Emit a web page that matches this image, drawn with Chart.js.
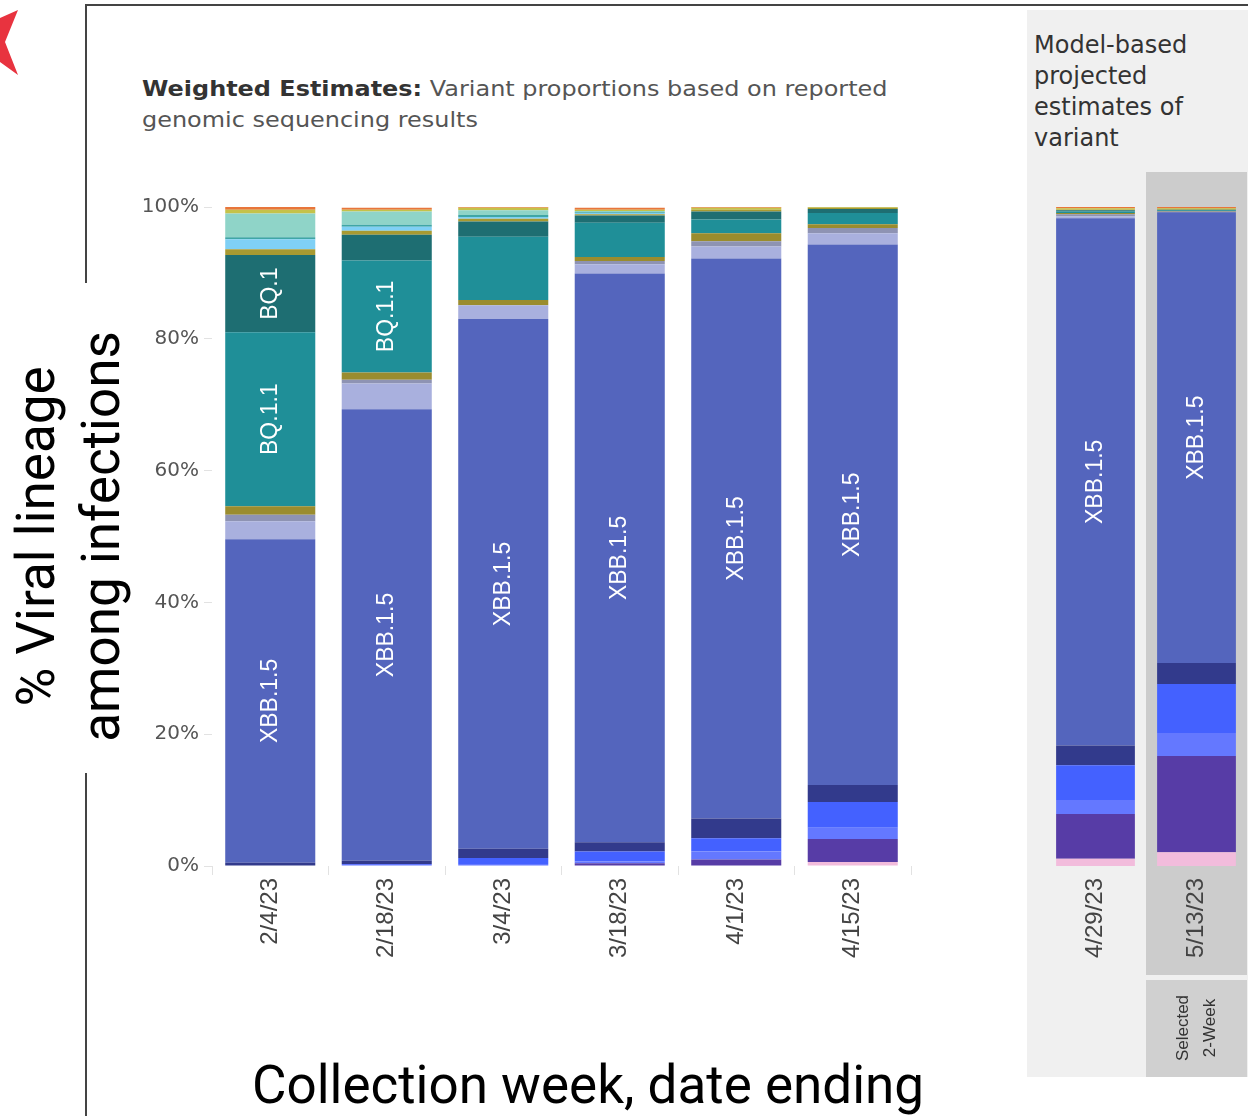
<!DOCTYPE html>
<html><head><meta charset="utf-8">
<script src="https://cdn.jsdelivr.net/npm/chart.js@4.4.1/dist/chart.umd.min.js"></script>
<style>
html,body{margin:0;padding:0;background:#fff;}
body{width:1248px;height:1116px;position:relative;overflow:hidden;}
#frame{position:absolute;left:85px;top:4px;width:1300px;height:1300px;border-left:2px solid #444;border-top:2px solid #444;}
#panel{position:absolute;left:1027px;top:10px;width:221px;height:1067px;background:#f0f0f0;}
#panelTitle{position:absolute;left:1034px;top:30px;font:24px "DejaVu Sans";line-height:31px;color:#333;}
#header{position:absolute;left:142px;top:74px;font:21px "DejaVu Sans";line-height:31px;color:#555;transform:scaleX(1.14);transform-origin:0 0;white-space:nowrap;}
#header b{color:#333;}
#xTitle{position:absolute;left:0;top:1053px;width:1176px;text-align:center;font:53px Roboto;line-height:65px;color:#000;}
#mainChart{position:absolute;left:0;top:0;}
#projChart{position:absolute;left:1027px;top:0;}
#logo{position:absolute;left:0;top:0;}
</style></head>
<body>
<div id="frame"></div>
<div id="panel"></div>
<div id="panelTitle">Model-based<br>projected<br>estimates of<br>variant</div>
<div id="header"><b>Weighted Estimates:</b> Variant proportions based on reported<br>genomic sequencing results</div>
<svg id="logo" width="30" height="90"><polygon points="0,18 18,10 5,42 18,75 0,62" fill="#e8333f"/></svg>
<canvas id="mainChart" width="1176" height="1116"></canvas>
<canvas id="projChart" width="221" height="1116"></canvas>
<div id="xTitle">Collection week, date ending</div>
<script>
// ---- data ----
const weeks = ['2/4/23','2/18/23','3/4/23','3/18/23','4/1/23','4/15/23'];
const projWeeks = ['4/29/23','5/13/23'];
const yTicks = [0,20,40,60,80,100];
// values (%): 6 observed weeks followed by 2 projected weeks
const XBB_2_3    = [0,   0,   0,   0,   0,   0.6, 1.1, 2.1];
const XBB_1_16   = [0,   0,   0,   0.4, 1.0, 3.5, 6.8, 14.6];
const XBB_1_9_2  = [0,   0.3, 0.3, 0.3, 1.2, 1.7, 2.1, 3.5];
const XBB_1_9_1  = [0,   0,   0.9, 1.5, 2.0, 3.9, 5.3, 7.4];
const XBB_1_5_1  = [0.5, 0.5, 1.4, 1.4, 3.0, 2.6, 3.0, 3.2];
const XBB_1_5    = [49.1,68.5,80.4,86.3,85.0,82.0,80.0,68.4];
const XBB        = [2.7, 3.9, 2.1, 1.4, 1.8, 1.7, 0.3, 0];
const CH_1_1     = [1.0, 0.6, 0,   0.5, 0.8, 0.8, 0.3, 0.1];
const BN_1       = [1.3, 1.1, 0.8, 0.6, 1.2, 0.6, 0.2, 0.1];
const BQ_1_1     = [26.4,17.0,9.6, 5.2, 2.1, 1.7, 0.2, 0.1];
const BQ_1       = [11.7,3.9, 2.3, 1.1, 1.2, 0.6, 0.2, 0.1];
const BF_7       = [0.9, 0.6, 0.4, 0.2, 0.3, 0.2, 0.1, 0];
const BA_5_2_6   = [1.5, 0.6, 0.3, 0.2, 0,   0,   0,   0];
const BF_11      = [0.3, 0.3, 0.3, 0.1, 0,   0,   0,   0];
const BA_2       = [3.6, 2.0, 0.7, 0.2, 0,   0,   0,   0];
const BA_2_75    = [0.6, 0.3, 0.4, 0.2, 0.3, 0.2, 0.2, 0.2];
const OTHER      = [0.4, 0.3, 0.3, 0.3, 0.4, 0.3, 0.3, 0.4];
const labeledSeries = ['XBB.1.5','BQ.1.1','BQ.1'];

// ---- series (bottom to top) with colours ----
const series = [
  ['XBB.2.3', XBB_2_3, '#f2bcdc'],
  ['XBB.1.16', XBB_1_16, '#573ca6'],
  ['XBB.1.9.2', XBB_1_9_2, '#6478ff'],
  ['XBB.1.9.1', XBB_1_9_1, '#4461ff'],
  ['XBB.1.5.1', XBB_1_5_1, '#323a8c'],
  ['XBB.1.5', XBB_1_5, '#5465bd'],
  ['XBB', XBB, '#a9b0de'],
  ['CH.1.1', CH_1_1, '#8e93b3'],
  ['BN.1', BN_1, '#9a8c2e'],
  ['BQ.1.1', BQ_1_1, '#1f8f98'],
  ['BQ.1', BQ_1, '#1e6e72'],
  ['BF.7', BF_7, '#a89a32'],
  ['BA.5.2.6', BA_5_2_6, '#7fd0f5'],
  ['BF.11', BF_11, '#3fa6a6'],
  ['BA.2', BA_2, '#8fd4c8'],
  ['BA.2.75', BA_2_75, '#c4c24a'],
  ['Other', OTHER, '#e8763b']
];
function makeDatasets(from, to, barPct){
  return series.map(([label, data, color]) => ({
    label, data: data.slice(from, to), backgroundColor: color,
    borderWidth: 0, barPercentage: barPct, categoryPercentage: 1
  }));
}

const segLabels = {
  id: 'segLabels',
  afterDatasetsDraw(chart){
    const ctx = chart.ctx;
    chart.data.datasets.forEach((ds, i) => {
      if (!labeledSeries.includes(ds.label)) return;
      chart.getDatasetMeta(i).data.forEach(el => {
        const h = Math.abs(el.base - el.y);
        ctx.save();
        ctx.font = '23px "Liberation Sans", Arial, sans-serif';
        const w = ctx.measureText(ds.label).width;
        if (h > w + 18) {
          ctx.translate(el.x, (el.y + el.base) / 2);
          ctx.rotate(-Math.PI / 2);
          ctx.fillStyle = '#ffffff';
          ctx.textAlign = 'center';
          ctx.textBaseline = 'middle';
          ctx.fillText(ds.label, 0, 0);
        }
        ctx.restore();
      });
    });
  }
};

const titleGap = {
  id: 'titleGap',
  beforeDraw(chart){
    const ctx = chart.ctx;
    ctx.save();
    ctx.fillStyle = '#ffffff';
    ctx.fillRect(70, 283, 32, 490);
    ctx.restore();
  }
};

Chart.defaults.font.family = '"Liberation Sans", Arial, sans-serif';
Chart.defaults.animation = false;

new Chart(document.getElementById('mainChart'), {
  type: 'bar',
  data: { labels: weeks, datasets: makeDatasets(0, 6, 0.773) },
  plugins: [titleGap, segLabels],
  options: {
    responsive: false,
    layout: { padding: { left: 0, right: 265, top: 207, bottom: 150 } },
    plugins: { legend: { display: false }, tooltip: { enabled: false } },
    scales: {
      x: {
        stacked: true,
        grid: { drawOnChartArea: false, tickLength: 9, color: '#e2e2e2', offset: true },
        border: { display: false },
        ticks: { minRotation: 90, maxRotation: 90, padding: 3, color: '#444',
                 font: { size: 24 } },
        afterFit(s){ s.height = 100; }
      },
      y: {
        stacked: true, min: 0, max: 100,
        grid: { drawOnChartArea: false, tickLength: 8, color: '#e2e2e2' },
        border: { display: false },
        afterBuildTicks(s){ s.ticks = yTicks.map(v => ({ value: v })); },
        ticks: { callback: v => v + '%', color: '#555', padding: 5,
                 font: { family: '"DejaVu Sans"', size: 20 } },
        title: {
          display: true, text: ['% Viral lineage', 'among infections'], color: '#000',
          font: { family: 'Roboto', size: 53, lineHeight: 1.23 },
          padding: { top: 8, bottom: 0 }
        },
        afterFit(s){ s.width = 212; }
      }
    }
  }
});

const selectedCol = {
  id: 'selectedCol',
  beforeDraw(chart){
    const ctx = chart.ctx, x = chart.scales.x;
    const left = (x.getPixelForValue(0) + x.getPixelForValue(1)) / 2;
    const right = chart.chartArea.right;
    ctx.save();
    ctx.fillStyle = '#cccccc';
    ctx.fillRect(left, 172, right - left, 803);
    ctx.fillStyle = '#d0d0d0';
    ctx.fillRect(left, 980, right - left, 97);
    ctx.translate((left + right) / 2, 1028);
    ctx.rotate(-Math.PI / 2);
    ctx.fillStyle = '#333';
    ctx.font = '17px "Liberation Sans", Arial, sans-serif';
    ctx.textAlign = 'center';
    ctx.textBaseline = 'middle';
    ctx.fillText('Selected', 0, -13);
    ctx.fillText('2-Week', 0, 14);
    ctx.restore();
  }
};

new Chart(document.getElementById('projChart'), {
  type: 'bar',
  data: { labels: projWeeks, datasets: makeDatasets(6, 8, 0.78) },
  plugins: [selectedCol, segLabels],
  options: {
    responsive: false,
    layout: { padding: { left: 18, right: 1, top: 207, bottom: 150 } },
    plugins: { legend: { display: false }, tooltip: { enabled: false } },
    scales: {
      x: {
        stacked: true,
        grid: { display: false },
        border: { display: false },
        ticks: { minRotation: 90, maxRotation: 90, padding: 4, color: '#444',
                 font: { size: 24 } },
        afterFit(s){ s.height = 100; }
      },
      y: { stacked: true, min: 0, max: 100, display: false }
    }
  }
});
</script>
</body></html>
